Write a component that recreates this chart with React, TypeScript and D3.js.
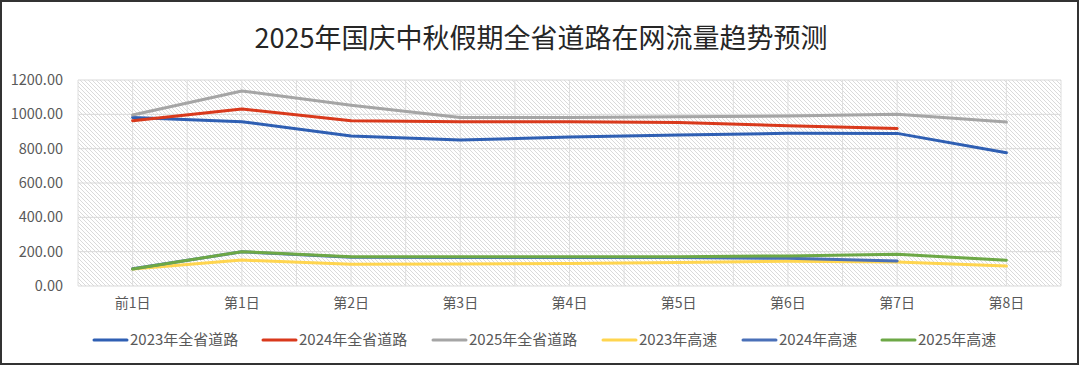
import React, { useRef, useEffect } from 'react';
import * as d3 from 'd3';

const title = '2025年国庆中秋假期全省道路在网流量趋势预测';
const days = ['前1日', '第1日', '第2日', '第3日', '第4日', '第5日', '第6日', '第7日', '第8日'];
const yTicks = [0, 200, 400, 600, 800, 1000, 1200];

const road2023 = [982, 957, 874, 850, 868, 879, 890, 889, 776];
const road2024 = [963, 1031, 963, 957, 957, 953, 934, 918];
const road2025 = [996, 1136, 1053, 982, 982, 986, 990, 1000, 955];
const hw2023 = [99, 151, 126, 128, 131, 137, 144, 140, 116];
const hw2024 = [100, 199, 168, 166, 166, 166, 161, 146];
const hw2025 = [99, 200, 171, 171, 171, 171, 175, 185, 150];

const seriesNames = ['2023年全省道路', '2024年全省道路', '2025年全省道路', '2023年高速', '2024年高速', '2025年高速'];
const seriesValues = [road2023, road2024, road2025, hw2023, hw2024, hw2025];
const seriesColors = ['#2F5FB3', '#D9391C', '#A5A5A5', '#FFD54F', '#4A70B8', '#6DA846'];

const W = 1080;
const H = 366;
const FONT = '"Noto Sans CJK SC", "Noto Sans", sans-serif';

const App = () => {
    const ref = useRef<SVGSVGElement>(null);

    useEffect(() => {
        document.body.style.margin = '0';
        const svg = d3.select(ref.current);
        svg.selectAll('*').remove();

        const left = 78, right = 1061, top = 80, bottom = 286;

        const x = d3.scaleBand().domain(days).range([left, right]).padding(0);
        const y = d3.scaleLinear().domain([0, 1200]).range([bottom, top]);
        const cx = (d: string) => (x(d) as number) + x.bandwidth() / 2;

        svg.append('rect').attr('x', 0).attr('y', 0).attr('width', W).attr('height', H).attr('fill', '#fff');

        const defs = svg.append('defs');
        const pat = defs.append('pattern')
            .attr('id', 'hatch')
            .attr('patternUnits', 'userSpaceOnUse')
            .attr('width', 4)
            .attr('height', 4);
        pat.append('rect').attr('width', 4).attr('height', 4).attr('fill', '#fff');
        pat.append('path')
            .attr('d', 'M-1,3 l2,2 M0,0 l4,4 M3,-1 l2,2')
            .attr('stroke', '#d6d6d6')
            .attr('stroke-width', 0.9);

        // plot area
        svg.append('rect')
            .attr('x', left).attr('y', top)
            .attr('width', right - left).attr('height', bottom - top)
            .attr('fill', 'url(#hatch)');

        // gridlines
        const g = svg.append('g');
        yTicks.forEach(t => {
            g.append('line')
                .attr('x1', left).attr('x2', right)
                .attr('y1', y(t)).attr('y2', y(t))
                .attr('stroke', '#d9d9d9').attr('stroke-width', 1);
        });
        const vlines: number[] = [];
        days.forEach(d => {
            vlines.push(x(d) as number);
            vlines.push(cx(d));
        });
        vlines.push(right);
        vlines.forEach(v => {
            g.append('line')
                .attr('x1', v).attr('x2', v)
                .attr('y1', top).attr('y2', bottom)
                .attr('stroke', '#dedede').attr('stroke-width', 1);
        });

        // title
        svg.append('text')
            .attr('x', W / 2 + 1)
            .attr('y', 48)
            .attr('text-anchor', 'middle')
            .style('font-family', FONT)
            .style('font-size', '27px')
            .style('fill', '#262626')
            .text(title);

        // y labels
        yTicks.forEach(t => {
            svg.append('text')
                .attr('x', 63)
                .attr('y', y(t))
                .attr('dy', '0.35em')
                .attr('text-anchor', 'end')
                .style('font-family', FONT)
                .style('font-size', '14.5px')
                .style('fill', '#595959')
                .text(d3.format('.2f')(t));
        });

        // x labels
        days.forEach(d => {
            svg.append('text')
                .attr('x', cx(d))
                .attr('y', 303)
                .attr('dy', '0.35em')
                .attr('text-anchor', 'middle')
                .style('font-family', FONT)
                .style('font-size', '14px')
                .style('fill', '#595959')
                .text(d);
        });

        // lines
        seriesValues.forEach((vals, i) => {
            const line = d3.line<number>()
                .x((_, j) => cx(days[j]))
                .y(v => y(v));
            svg.append('path')
                .datum(vals)
                .attr('d', line)
                .attr('fill', 'none')
                .attr('stroke', seriesColors[i])
                .attr('stroke-width', 3)
                .attr('stroke-linejoin', 'round')
                .attr('stroke-linecap', 'round');
        });

        // legend
        const legendX = [94, 263, 433, 603, 743, 882];
        seriesNames.forEach((name, i) => {
            const lg = svg.append('g').attr('transform', `translate(${legendX[i]}, 340)`);
            lg.append('line')
                .attr('x1', 0).attr('x2', 33)
                .attr('y1', 0).attr('y2', 0)
                .attr('stroke', seriesColors[i])
                .attr('stroke-width', 3)
                .attr('stroke-linecap', 'round');
            lg.append('text')
                .attr('x', 36)
                .attr('y', 0)
                .attr('dy', '0.35em')
                .style('font-family', FONT)
                .style('font-size', '15px')
                .style('fill', '#595959')
                .text(name);
        });

        // outer frame
        svg.append('rect')
            .attr('x', 1).attr('y', 1)
            .attr('width', W - 3).attr('height', H - 3)
            .attr('fill', 'none')
            .attr('stroke', '#333')
            .attr('stroke-width', 2);
    }, []);

    return (
        <svg ref={ref} width={W} height={H} style={{ display: 'block' }}></svg>
    );
};

export default App;
